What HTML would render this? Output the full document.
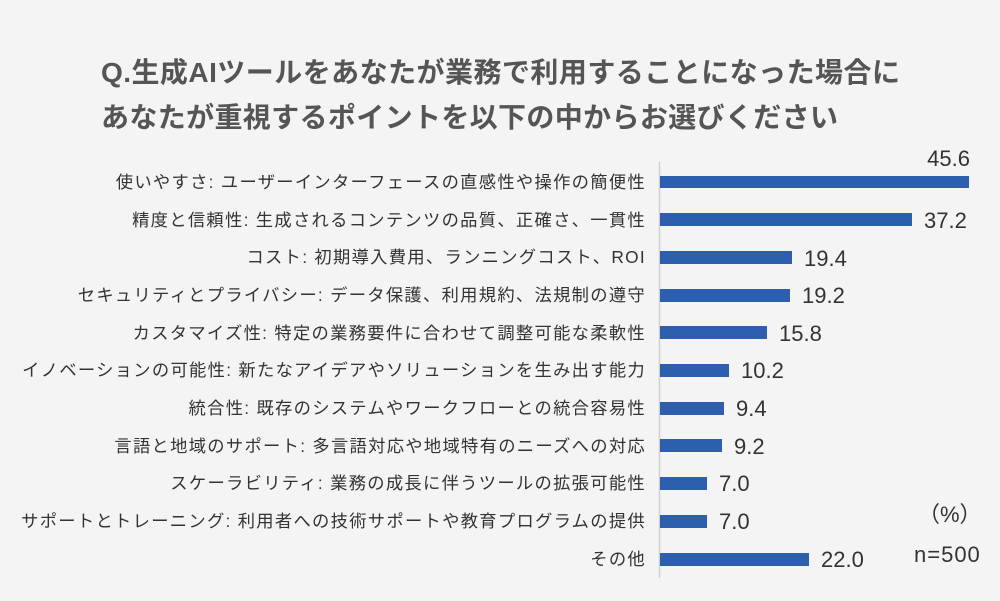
<!DOCTYPE html>
<html><head><meta charset="utf-8"><style>
html,body{margin:0;padding:0;background:#f4f4f4;}
svg{display:block;font-family:"Liberation Sans","Noto Sans CJK JP",sans-serif;}
</style></head><body>
<svg width="1000" height="601" viewBox="0 0 1000 601">
<rect width="1000" height="601" fill="#f4f4f4"/>
<text x="101" y="82" font-size="28" font-weight="bold" fill="#555" textLength="799">Q.生成AIツールをあなたが業務で利用することになった場合に</text>
<text x="101" y="127" font-size="28" font-weight="bold" fill="#555" textLength="737">あなたが重視するポイントを以下の中からお選びください</text>
<line x1="659.5" y1="162" x2="659.5" y2="578" stroke="#d0d0d0" stroke-width="1.5"/>
<g font-size="17.3" fill="#333" text-anchor="end" letter-spacing="1.3">
<text x="646" y="188">使いやすさ: ユーザーインターフェースの直感性や操作の簡便性</text>
<text x="646" y="226">精度と信頼性: 生成されるコンテンツの品質、正確さ、一貫性</text>
<text x="646" y="263">コスト: 初期導入費用、ランニングコスト、ROI</text>
<text x="646" y="301">セキュリティとプライバシー: データ保護、利用規約、法規制の遵守</text>
<text x="646" y="339">カスタマイズ性: 特定の業務要件に合わせて調整可能な柔軟性</text>
<text x="646" y="376">イノベーションの可能性: 新たなアイデアやソリューションを生み出す能力</text>
<text x="646" y="414">統合性: 既存のシステムやワークフローとの統合容易性</text>
<text x="646" y="452">言語と地域のサポート: 多言語対応や地域特有のニーズへの対応</text>
<text x="646" y="489">スケーラビリティ: 業務の成長に伴うツールの拡張可能性</text>
<text x="646" y="527">サポートとトレーニング: 利用者への技術サポートや教育プログラムの提供</text>
<text x="646" y="565">その他</text>
</g>
<g fill="#2e5fae">
<rect x="660" y="176" width="309" height="12"/>
<rect x="660" y="213" width="252" height="13"/>
<rect x="660" y="251" width="132" height="13"/>
<rect x="660" y="289" width="130" height="13"/>
<rect x="660" y="326" width="107" height="13"/>
<rect x="660" y="364" width="69" height="13"/>
<rect x="660" y="402" width="64" height="13"/>
<rect x="660" y="439" width="62" height="13"/>
<rect x="660" y="477" width="47" height="13"/>
<rect x="660" y="515" width="47" height="13"/>
<rect x="660" y="553" width="149" height="13"/>
</g>
<g font-size="22" fill="#333">
<text x="970" y="166" text-anchor="end">45.6</text>
<text x="924" y="228">37.2</text>
<text x="804" y="266">19.4</text>
<text x="802" y="303">19.2</text>
<text x="779" y="341">15.8</text>
<text x="741" y="378">10.2</text>
<text x="736" y="416">9.4</text>
<text x="734" y="454">9.2</text>
<text x="719" y="491">7.0</text>
<text x="719" y="529">7.0</text>
<text x="821" y="567">22.0</text>
<text x="918" y="522">（%）</text>
<text x="914" y="562" letter-spacing="1">n=500</text>
</g>
</svg>
</body></html>
